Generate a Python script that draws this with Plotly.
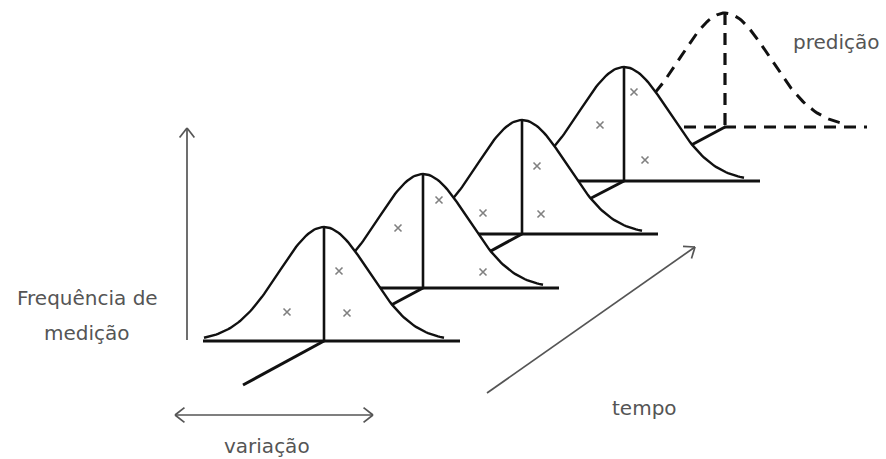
import numpy as np
import plotly.graph_objects as go

# Bell curves, back (prediction) to front; pixel coordinates of the sketch
peak_x = [725, 624, 522, 423, 324]
base_y = [127, 181, 234, 288, 341]
dashed = [True, False, False, False, False]
bell_height = 114
bell_sigma = 45

# grey "x" measurements per curve (same order as peak_x)
meas_x = [[], [600, 634, 645], [483, 537, 541], [398, 439, 483], [287, 339, 347]]
meas_y = [[], [125, 92, 160], [213, 166, 214], [228, 200, 272], [312, 271, 313]]

# time axis tail in front of first curve
time_tail = (243, 385)

# arrows: (x0, y0, x1, y1)
arrow_freq = (187, 340, 187, 128)
arrow_var = (175, 415, 373, 415)
arrow_time = (487, 393, 695, 247)

labels = [
    ("Frequência de", 87, 298),
    ("medição", 87, 333),
    ("variação", 267, 446),
    ("tempo", 644, 408),
    ("predição", 836, 42),
]

#-----------------------------------------------------------------------------------

fig = go.Figure()
BLACK = "#111111"
GREY = "#555555"


def add_line(xs, ys, width=2.5, dash="solid", color=BLACK):
    fig.add_trace(go.Scatter(x=xs, y=ys, mode="lines", hoverinfo="skip",
                             line=dict(color=color, width=width, dash=dash)))


def add_arrow(x0, y0, x1, y1, heads=(False, True)):
    add_line([x0, x1], [y0, y1], width=1.7, color=GREY)
    for (ax, ay, bx, by), on in zip(((x1, y1, x0, y0), (x0, y0, x1, y1)), heads):
        if not on:
            continue
        ang = np.arctan2(by - ay, bx - ax)
        for d in (np.radians(38), -np.radians(38)):
            add_line([bx, bx - 12 * np.cos(ang + d)], [by, by - 12 * np.sin(ang + d)],
                     width=1.7, color=GREY)


for i, (px, by, dsh) in enumerate(zip(peak_x, base_y, dashed)):
    style = "12px,8px" if dsh else "solid"
    w = 3 if dsh else 2.4
    xs = np.linspace(px - 120, px + 120, 121)
    ys = by - bell_height * np.exp(-((xs - px) ** 2) / (2 * bell_sigma ** 2))
    # white-filled bell hides whatever lies behind it
    fig.add_trace(go.Scatter(
        x=np.r_[xs, xs[::-1]], y=np.r_[ys, np.full(xs.size, by)],
        fill="toself", fillcolor="white", mode="lines",
        line=dict(color="rgba(0,0,0,0)", width=0), hoverinfo="skip",
    ))
    add_line(xs, ys, width=w, dash=style)
    add_line([px - 121, px + (142 if dsh else 136)], [by, by], width=3, dash=style)
    add_line([px, px], [by - bell_height, by], width=w + 0.2, dash=style)
    if meas_x[i]:
        fig.add_trace(go.Scatter(
            x=meas_x[i], y=meas_y[i], mode="markers", hoverinfo="skip",
            marker=dict(symbol="x-thin", size=7, line=dict(color="#808080", width=1.6)),
        ))
    # time axis segment toward the next (front) curve
    if i + 1 < len(peak_x):
        nx, ny = peak_x[i + 1], base_y[i + 1]
    else:
        nx, ny = time_tail
    add_line([px, nx], [by, ny], width=3)

add_arrow(*arrow_freq)
add_arrow(*arrow_var, heads=(True, True))
add_arrow(*arrow_time)

for text, x, y in labels:
    fig.add_annotation(x=x, y=y, text=text, showarrow=False,
                       font=dict(family="DejaVu Sans", size=20, color=GREY))

fig.update_layout(
    width=886, height=459,
    margin=dict(l=0, r=0, t=0, b=0),
    paper_bgcolor="white", plot_bgcolor="white",
    showlegend=False,
    xaxis=dict(range=[0, 886], visible=False, fixedrange=True),
    yaxis=dict(range=[459, 0], visible=False, fixedrange=True),
)

fig.write_html("out.html", config={"displayModeBar": False},
               post_script="document.body.style.margin='0';")
